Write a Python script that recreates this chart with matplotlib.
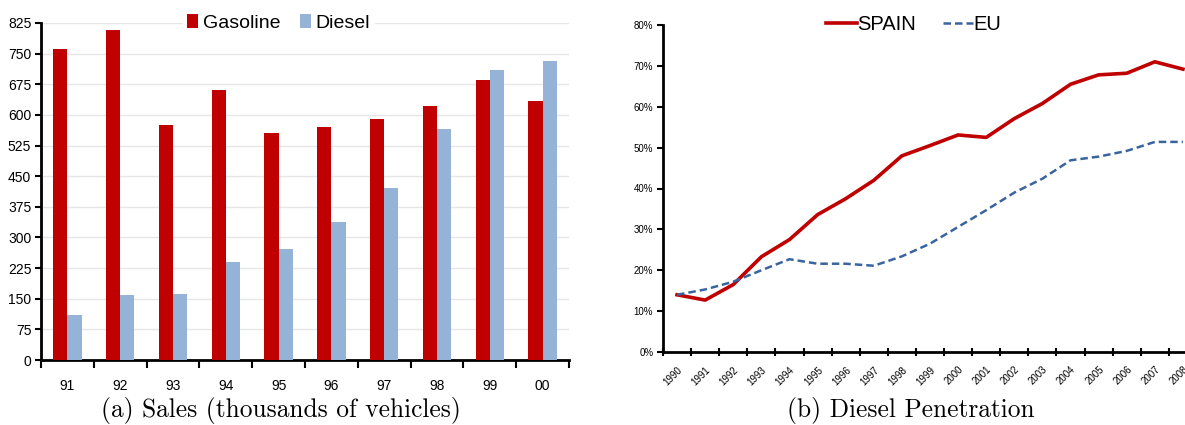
import numpy as np
import matplotlib
matplotlib.use('Agg')
from matplotlib import pyplot as plt
from matplotlib.ticker import FixedLocator, PercentFormatter

plt.rcParams['font.family'] = ['Liberation Sans', 'DejaVu Sans']

# Sales by year (thousands of vehicles)
sales_years = ['91', '92', '93', '94', '95', '96', '97', '98', '99', '00']
gasoline = [762, 808, 575, 661, 556, 571, 591, 623, 686, 633]
diesel = [111, 160, 162, 240, 272, 339, 421, 565, 709, 732]

# Diesel share of new registrations (%)
pen_years = [str(y) for y in range(1990, 2009)]
spain = [14.0, 12.7, 16.5, 23.3, 27.5, 33.6, 37.5, 42.0, 48.0, 50.5,
         53.1, 52.5, 57.1, 60.8, 65.5, 67.8, 68.2, 71.0, 69.2]
eu = [14.0, 15.3, 17.2, 20.0, 22.7, 21.6, 21.6, 21.1, 23.4, 26.5,
      30.6, 34.7, 39.0, 42.4, 46.9, 47.8, 49.2, 51.4, 51.4]

RED = '#c00000'
LIGHTBLUE = '#95b3d7'
DASHBLUE = '#3a64a0'

W, H = 1185, 425
fig = plt.figure(figsize=(W / 100, H / 100), dpi=100)


def px_axes(x0, x1, ytop, ybot):
    return fig.add_axes([x0 / W, (H - ybot) / H, (x1 - x0) / W, (ybot - ytop) / H])


def style_axes(ax, ylab_size, xtick_dir):
    for s in ['top', 'right']:
        ax.spines[s].set_visible(False)
    for s in ['left', 'bottom']:
        ax.spines[s].set_linewidth(2)
    ax.tick_params(axis='y', which='major', direction='out', length=4, width=1.5,
                   labelsize=ylab_size, pad=3)
    ax.tick_params(axis='x', which='major', length=0)
    ax.tick_params(axis='x', which='minor', direction=xtick_dir, length=6, width=1.5)


# (a) bar chart
ax1 = px_axes(41, 569, 23, 360)
x = np.arange(len(sales_years))
bw = 0.27
ax1.bar(x - bw / 2, gasoline, bw, color=RED, label='Gasoline', zorder=3)
ax1.bar(x + bw / 2, diesel, bw, color=LIGHTBLUE, label='Diesel', zorder=3)
ax1.set_xlim(-0.5, len(sales_years) - 0.5)
ax1.set_ylim(0, 825)
ax1.set_yticks(np.arange(0, 826, 75))
ax1.set_xticks(x)
ax1.set_xticklabels(sales_years, fontsize=10)
ax1.xaxis.set_minor_locator(FixedLocator(np.arange(-0.5, len(sales_years), 1)))
ax1.yaxis.grid(True, color='#e6e6e6', linewidth=1, zorder=0)
style_axes(ax1, 10, 'out')
ax1.tick_params(axis='x', which='major', pad=14)
leg1 = ax1.legend(loc='center', bbox_to_anchor=(0.45, 1.0), ncol=2, fontsize=14,
                  frameon=True, fancybox=False, edgecolor='white', framealpha=1,
                  handlelength=0.55, handleheight=0.75, handletextpad=0.25,
                  columnspacing=1.0, borderpad=0.2)
leg1.set_zorder(5)

# (b) line chart
ax2 = px_axes(663, 1197, 25, 352)
xp = np.arange(len(pen_years))
ax2.plot(xp, spain, color=RED, linewidth=2.6, label='SPAIN', zorder=3)
ax2.plot(xp, eu, color=DASHBLUE, linewidth=1.8, linestyle=(0, (3, 1.6)),
         label='EU', zorder=3)
ax2.set_xlim(-0.5, len(pen_years) - 0.5)
ax2.set_ylim(0, 80)
ax2.set_yticks(np.arange(0, 81, 10))
ax2.yaxis.set_major_formatter(PercentFormatter(decimals=0))
ax2.set_xticks(xp)
ax2.set_xticklabels(pen_years, fontsize=7, rotation=45, ha='right',
                    rotation_mode='anchor')
ax2.xaxis.set_minor_locator(FixedLocator(np.arange(-0.5, len(pen_years), 1)))
style_axes(ax2, 7, 'inout')
ax2.tick_params(axis='x', which='major', pad=9)
ax2.legend(loc='center', bbox_to_anchor=(0.47, 1.0), ncol=2, fontsize=14.5,
           frameon=False, handlelength=1.5, handletextpad=0.05,
           columnspacing=1.3, borderpad=0.2)

# captions
fig.text(281 / W, 1 - 411 / H, '(a) Sales (thousands of vehicles)', family='cmr10',
         fontsize=18.3, ha='center', va='center')
fig.text(911 / W, 1 - 411 / H, '(b) Diesel Penetration', family='cmr10',
         fontsize=18.3, ha='center', va='center')

fig.savefig('out.png', dpi=100)
